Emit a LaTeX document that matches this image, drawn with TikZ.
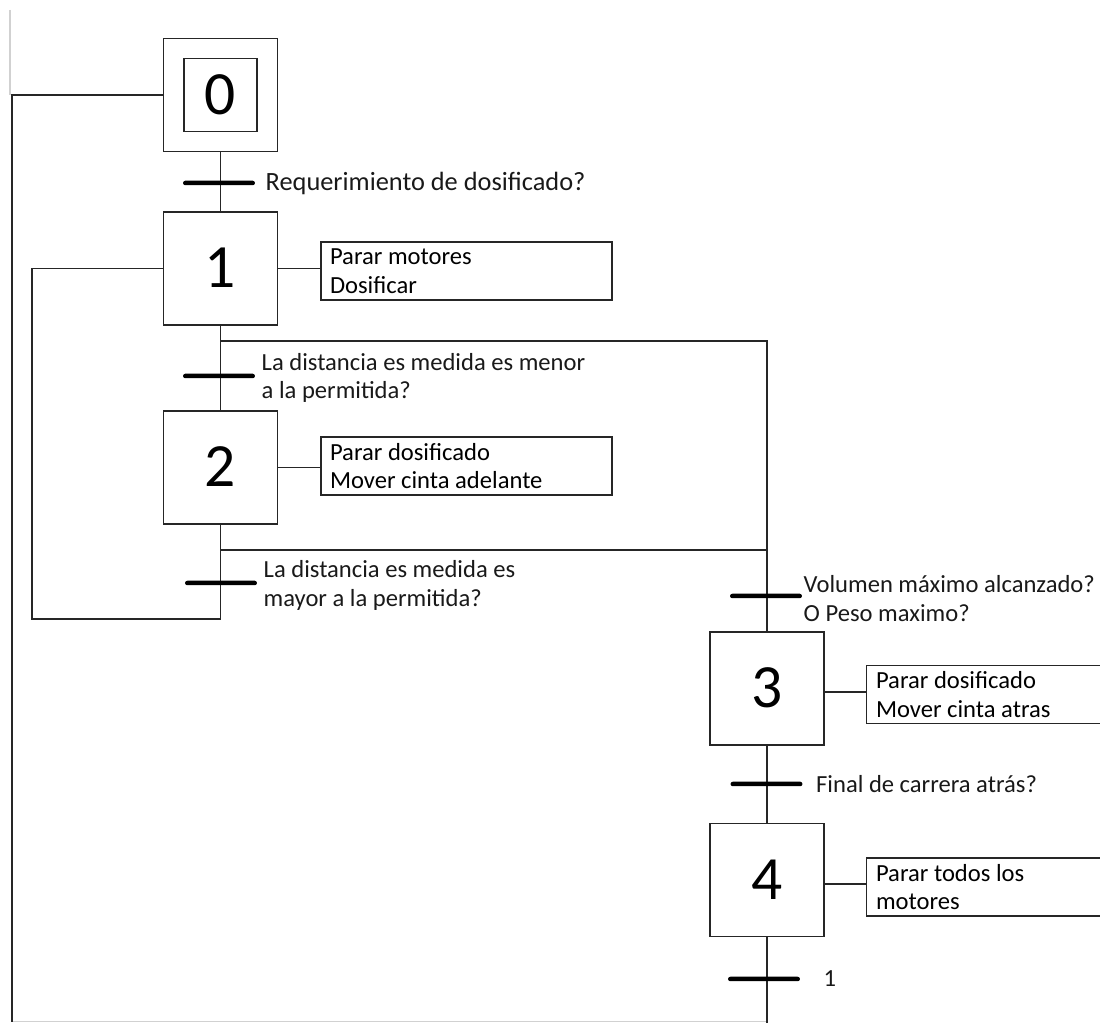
\documentclass[tikz,border=0pt]{standalone}
\usepackage{fontspec}
\setmainfont{Carlito}
\begin{document}
\begin{tikzpicture}[x=0.02cm,y=-0.02cm,
  line/.style={draw=black!85,line width=0.8pt},
  stepbox/.style={line,rectangle,minimum width=2.28cm,minimum height=2.26cm,inner sep=0pt,
    text height=0.78cm,text depth=0pt,font=\fontsize{35}{40}\selectfont},
  innerbox/.style={line,rectangle,minimum size=1.46cm,inner sep=0pt,
    text height=0.78cm,text depth=0pt,font=\fontsize{35}{40}\selectfont},
  actbox/.style={line,rectangle,minimum height=1.16cm,inner xsep=0.18cm,inner ysep=0pt,
    align=flush left,font=\fontsize{14}{16.4}\selectfont},
  actopen/.style={rectangle,minimum height=1.14cm,inner xsep=0.18cm,inner ysep=0pt,
    align=flush left,font=\fontsize{14}{16.4}\selectfont},
  tbar/.style={rectangle,fill=black,draw=none,minimum width=1.44cm,minimum height=0.09cm,
    inner sep=0pt,rounded corners=0.045cm},
  tlabel/.style={anchor=west,inner sep=0pt,align=left,text=black!90,
    font=\fontsize{14}{16.4}\selectfont},
  faint/.style={draw=black!18,line width=0.6pt}]
\useasboundingbox (0,0) rectangle (1100,1023);

% page edge traces
\draw[faint] (10,10) -- (10,95);
\draw[faint] (12,1021.5) -- (767,1021.5);

% steps
\node[stepbox] (s0) at (220.5,95) {};
\node[innerbox] (s0in) at (s0.center) {0};
\node[stepbox] (s1) at (220.5,268.5) {1};
\node[stepbox] (s2) at (220.5,467.5) {2};
\node[stepbox] (s3) at (767,688.5) {3};
\node[stepbox] (s4) at (767,880) {4};

% actions
\node[actbox,text width=5.46cm] (a1) at (466.5,271) {Parar motores\\Dosificar};
\node[actbox,text width=5.46cm] (a2) at (466.5,466) {Parar dosificado\\Mover cinta adelante};
\node[actopen,text width=4.3cm] (a3) at (983.5,694.5) {Parar dosificado\\Mover cinta atras};
\node[actopen,text width=4.3cm] (a4) at (983.5,887) {Parar todos los\\motores};
\draw[line] (a3.north east) -- (a3.north west) -- (a3.south west) -- (a3.south east);
\draw[line] (a4.north east) -- (a4.north west) -- (a4.south west) -- (a4.south east);

% branch points and return paths
\coordinate (d1) at (220.5,341);
\coordinate (b1) at (767,341);
\coordinate (d2) at (220.5,550);
\coordinate (b2) at (767,550);
\coordinate (l1) at (220.5,619);
\coordinate (l2) at (32,619);
\coordinate (lb) at (12,1022);
\coordinate (rb) at (767,1023);

% links
\draw[line] (s0.south) -- (s1.north);
\draw[line] (s1.south) -- (s2.north);
\draw[line] (s2.south) -- (l1) -- (l2) |- (s1.west);
\draw[line] (d1) -- (b1) -- (s3.north);
\draw[line] (d2) -- (b2);
\draw[line] (s3.south) -- (s4.north);
\draw[line] (s4.south) -- (rb);
\draw[line] (s0.west) -| (lb);
\draw[line] (s1.east) -- (s1.east -| a1.west);
\draw[line] (s2.east) -- (s2.east -| a2.west);
\draw[line] ([yshift=-0.07cm]s3.east) -- ([yshift=-0.07cm]s3.east -| a3.west);
\draw[line] ([yshift=-0.08cm]s4.east) -- ([yshift=-0.08cm]s4.east -| a4.west);

% transitions
\node[tbar] (t01) at (219,183) {};
\node[tbar] (t12) at (219,376) {};
\node[tbar] (t21) at (221,583) {};
\node[tbar] (t23) at (766,596) {};
\node[tbar] (t34) at (766.5,784) {};
\node[tbar] (t41) at (764,979) {};

\node[tlabel,font=\fontsize{15}{17.5}\selectfont] (c01) at ([xshift=0.2cm]t01.east) {Requerimiento de dosificado?};
\node[tlabel] (c12) at ([xshift=0.12cm,yshift=-0.04cm]t12.east) {La distancia es medida es menor\\a la permitida?};
\node[tlabel] (c21) at ([xshift=0.12cm,yshift=-0.05cm]t21.east) {La distancia es medida es\\mayor a la permitida?};
\node[tlabel] (c23) at ([xshift=0.02cm,yshift=-0.05cm]t23.east) {Volumen máximo alcanzado?\\O Peso maximo?};
\node[tlabel] (c34) at ([xshift=0.26cm]t34.east) {Final de carrera atrás?};
\node[tlabel] (c41) at ([xshift=0.46cm]t41.east) {1};
\end{tikzpicture}
\end{document}
